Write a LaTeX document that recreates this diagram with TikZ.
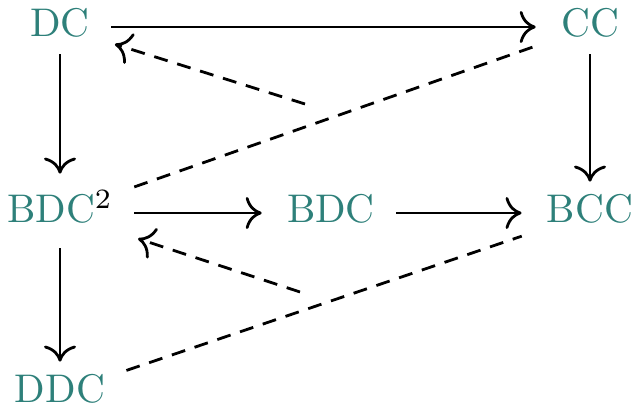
\documentclass[tikz,border=0pt]{standalone}
\usetikzlibrary{arrows.meta}
\definecolor{objcol}{RGB}{46,128,122}
\newcommand{\obj}[1]{\textcolor{objcol}{#1}}
\begin{document}
\begin{tikzpicture}[x=0.25pt, y=-0.25pt, line width=0.7pt, shorten >=1pt, >={Computer Modern Rightarrow[length=4pt,width=8pt]},
  obj node/.style={anchor=base, text height=7pt, text depth=2pt, inner xsep=5pt, inner ysep=2pt},
  dash line/.style={dash pattern=on 3.5pt off 2.5pt}]
\useasboundingbox (0,0) rectangle (634,405);
\begin{scope}[every node/.style={obj node}]
\node (dc) at (60,37) {\obj{DC}};
\node (cc) at (590,37) {\obj{CC}};
\node [text height=9pt, text depth=4pt] (bdc2) at (60,223) {\obj{BDC}$^2$};
\node (bdc) at (331,223) {\obj{BDC}};
\node (bcc) at (590,223) {\obj{BCC}};
\node (ddc) at (60,403) {\obj{DDC}};
\end{scope}
\path[->]
    (dc) edge (cc)
    (dc) edge (bdc2)
    (cc) edge (bcc)
    (bdc2) edge (bdc)
    (bdc) edge (bcc)
    (bdc2) edge (ddc)
         ;
\coordinate (m1) at (305,104);
\coordinate (m2) at (300,292);
\path[dash line]
    (bdc2) edge (cc)
    (ddc) edge (bcc)
    (m1) edge[->] (dc)
    (m2) edge[->] (bdc2)
         ;
\end{tikzpicture}
\end{document}
